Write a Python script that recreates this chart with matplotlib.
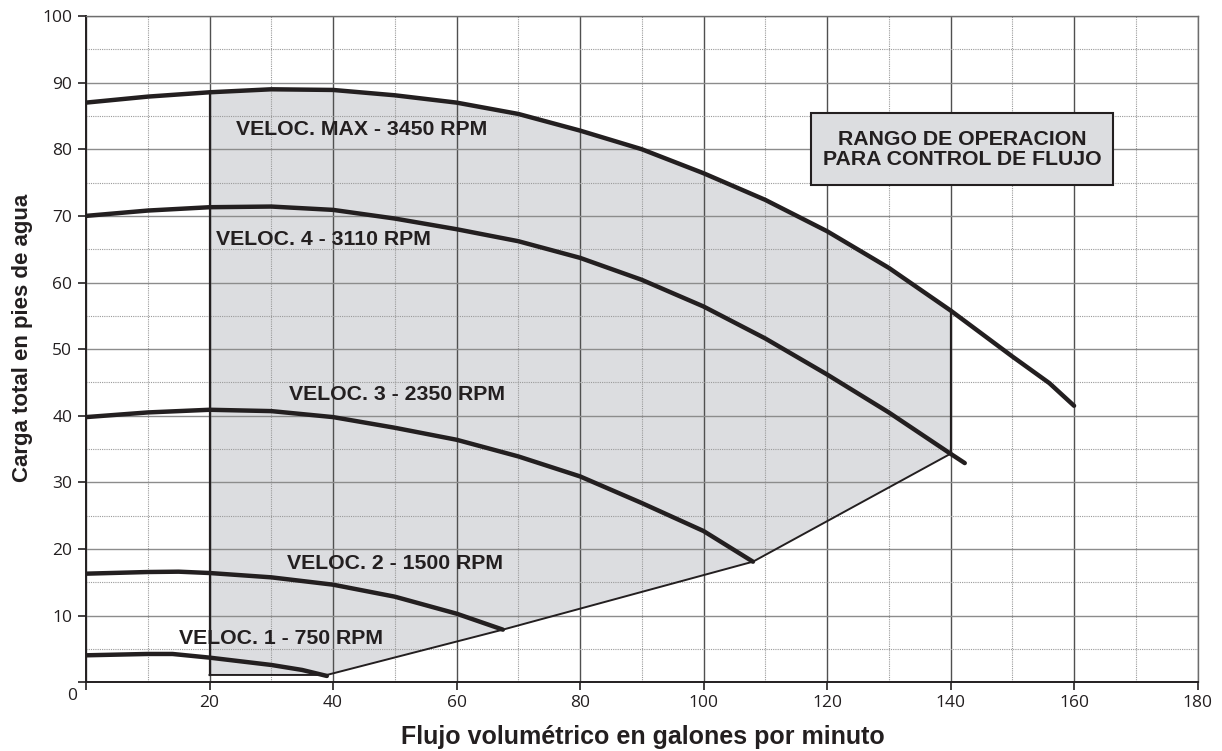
import numpy as np
import matplotlib.pyplot as plt
from matplotlib.patches import Rectangle
from matplotlib.ticker import MultipleLocator

# curvas de la bomba
max_x = [0, 10, 20, 30, 40, 50, 60, 70, 80, 90, 100, 110, 120, 130, 140, 150, 156, 160]
max_y = [87.0, 87.9, 88.55, 89.0, 88.9, 88.1, 87.0, 85.3, 82.8, 80.0, 76.4, 72.4, 67.7, 62.2, 55.8, 48.9, 44.9, 41.5]

v4_x = [0, 10, 20, 30, 40, 50, 60, 70, 80, 90, 100, 110, 120, 130, 140, 142.3]
v4_y = [70.0, 70.8, 71.3, 71.4, 70.9, 69.6, 68.0, 66.2, 63.7, 60.4, 56.4, 51.6, 46.2, 40.5, 34.3, 32.9]

v3_x = [0, 10, 20, 30, 40, 50, 60, 70, 80, 90, 100, 108]
v3_y = [39.8, 40.5, 40.9, 40.7, 39.8, 38.2, 36.4, 33.9, 30.9, 26.9, 22.7, 18.1]

v2_x = [0, 10, 15, 20, 30, 40, 50, 60, 67.5]
v2_y = [16.3, 16.55, 16.6, 16.4, 15.75, 14.65, 12.85, 10.3, 7.9]

v1_x = [0, 10, 14, 20, 30, 35, 39]
v1_y = [4.05, 4.25, 4.25, 3.7, 2.6, 1.85, 0.95]

curvas = [(max_x, max_y), (v4_x, v4_y), (v3_x, v3_y), (v2_x, v2_y), (v1_x, v1_y)]

etiquetas = ["VELOC. MAX - 3450 RPM", "VELOC. 4 - 3110 RPM", "VELOC. 3 - 2350 RPM",
             "VELOC. 2 - 1500 RPM", "VELOC. 1 - 750 RPM"]
etiq_pos = [(24.3, 82.9), (21.1, 66.4), (32.9, 43.2), (32.6, 17.8), (15.1, 6.6)]

# limite inferior del rango de operacion
env_x = [20, 39, 67.5, 108, 140]
env_y = [1.1, 1.1, 7.9, 18.1, 34.3]

oscuro = '#231f20'

fig = plt.figure(figsize=(12.22, 7.51), dpi=100)
ax = fig.add_axes([0.0704, 0.0915, 0.9096, 0.8872])

# zona sombreada
sup = [(x, y) for x, y in zip(max_x, max_y) if 20 <= x <= 140]
poly_x = env_x + [p[0] for p in sup[::-1]]
poly_y = env_y + [p[1] for p in sup[::-1]]
ax.fill(poly_x, poly_y, color='#dcdde0', zorder=0.2, lw=0)

ax.plot(env_x, env_y, color=oscuro, lw=1.4, zorder=3)
ax.plot([20, 20], [env_y[0], sup[0][1]], color=oscuro, lw=1.6, zorder=3)
ax.plot([140, 140], [env_y[-1], sup[-1][1]], color=oscuro, lw=1.6, zorder=3)

for cx, cy in curvas:
    ax.plot(cx, cy, color=oscuro, lw=3.2, solid_capstyle='round',
            solid_joinstyle='round', zorder=4)

for txt, (tx, ty) in zip(etiquetas, etiq_pos):
    ax.text(tx, ty, txt, fontsize=15.3, fontweight='bold', family='Liberation Sans',
            color=oscuro, ha='left', va='center', zorder=5)

# recuadro
ax.add_patch(Rectangle((117.4, 74.6), 48.9, 10.8, facecolor='#dcdde0',
                       edgecolor=oscuro, lw=1.5, zorder=5))
ax.text(141.9, 80.0, "RANGO DE OPERACION\nPARA CONTROL DE FLUJO", fontsize=15.3,
        fontweight='bold', family='Liberation Sans', color=oscuro,
        ha='center', va='center', linespacing=1.05, zorder=6)

ax.set_xlim(0, 180)
ax.set_ylim(0, 100)
ax.xaxis.set_major_locator(MultipleLocator(20))
ax.xaxis.set_minor_locator(MultipleLocator(10))
ax.yaxis.set_major_locator(MultipleLocator(10))
ax.yaxis.set_minor_locator(MultipleLocator(5))
ax.set_axisbelow(True)
ax.yaxis.grid(which='major', color='#8c8c8c', lw=1.0, ls='-')
ax.xaxis.grid(which='major', color='#505050', lw=1.0, ls='-')
ax.grid(which='minor', color='#9a9a9a', lw=0.8, ls=(0, (1, 1)))
ax.tick_params(which='minor', length=0)
ax.tick_params(which='major', length=6, width=1.2, color=oscuro, labelcolor=oscuro,
               labelsize=12.5)
ax.tick_params(axis='x', pad=3)
ax.tick_params(axis='y', pad=4)

ax.set_xticks(range(0, 181, 20))
ax.set_xticklabels([''] + [str(v) for v in range(20, 181, 20)], family='Open Sans')
ax.set_yticks(range(0, 101, 10))
ax.set_yticklabels([''] + [str(v) for v in range(10, 101, 10)], family='Open Sans')
ax.annotate('0', xy=(0, 0), xytext=(-9, -14), textcoords='offset pixels',
            ha='right', va='center', fontsize=12.5, family='Open Sans', color=oscuro,
            annotation_clip=False)

for s in ['left', 'bottom']:
    ax.spines[s].set_color(oscuro)
    ax.spines[s].set_linewidth(1.4)
for s in ['top', 'right']:
    ax.spines[s].set_color('#6d6d6d')
    ax.spines[s].set_linewidth(1.0)

fig.text(0.526, 0.0093, "Flujo volumétrico en galones por minuto", fontsize=18,
         fontweight='bold', family='Liberation Sans', color=oscuro, ha='center', va='baseline')
fig.text(0.0184, 0.5506, "Carga total en pies de agua", fontsize=16, fontweight='bold',
         family='Liberation Sans', color=oscuro, rotation=90, ha='center', va='center')

fig.savefig('out.png', dpi=100)
